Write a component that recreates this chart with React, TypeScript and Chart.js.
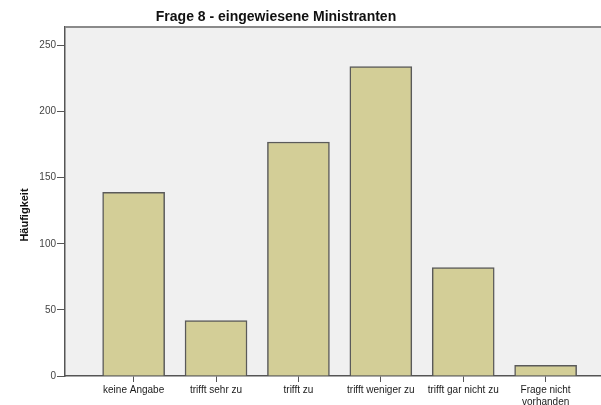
import React, { useEffect, useRef } from "react";
import { Chart, registerables } from "chart.js";

Chart.register(...registerables);

const categories: string[][] = [
  ["keine Angabe"],
  ["trifft sehr zu"],
  ["trifft zu"],
  ["trifft weniger zu"],
  ["trifft gar nicht zu"],
  ["Frage nicht", "vorhanden"],
];
const counts = [139, 42, 177, 234, 82, 8];
const yTicks = [0, 50, 100, 150, 200, 250];
const chartTitle = "Frage 8 - eingewiesene Ministranten";
const yAxisTitle = "Häufigkeit";

const FONT = '"Liberation Sans", Arial, sans-serif';

export default function App() {
  const ref = useRef<HTMLCanvasElement | null>(null);

  useEffect(() => {
    if (!ref.current) return;
    const framePlugin = {
      id: "frame",
      beforeDraw(chart: any) {
        const { ctx, chartArea } = chart;
        ctx.save();
        ctx.fillStyle = "#F0F0F0";
        ctx.fillRect(chartArea.left, chartArea.top, chartArea.right - chartArea.left, chartArea.bottom - chartArea.top);
        ctx.restore();
      },
      afterDraw(chart: any) {
        const { ctx, chartArea } = chart;
        ctx.save();
        ctx.strokeStyle = "#8A8A8A";
        ctx.lineWidth = 2;
        ctx.beginPath();
        ctx.moveTo(chartArea.left, chartArea.top);
        ctx.lineTo(chartArea.right, chartArea.top);
        ctx.stroke();
        ctx.fillStyle = "#111";
        ctx.font = `bold 14px ${FONT}`;
        ctx.textAlign = "center";
        ctx.textBaseline = "alphabetic";
        ctx.fillText(chartTitle, 276, 21);
        ctx.translate(25, 215);
        ctx.rotate(-Math.PI / 2);
        ctx.font = `bold 11px ${FONT}`;
        ctx.textBaseline = "middle";
        ctx.fillText(yAxisTitle, 0, 0);
        ctx.restore();
      },
    };

    const chart = new Chart(ref.current, {
      type: "bar",
      data: {
        datasets: [
          {
            data: counts.map((v, i) => ({ x: i, y: v })),
            backgroundColor: "#D3CE97",
            borderColor: "#5A5A5A",
            borderWidth: 1.5,
            barThickness: 62,
          },
        ],
      },
      options: {
        animation: false,
        responsive: false,
        devicePixelRatio: 1,
        layout: { padding: { top: 27, left: 0, right: 0, bottom: 0 } },
        plugins: { legend: { display: false }, tooltip: { enabled: false }, title: { display: false } },
        scales: {
          x: {
            type: "linear",
            offset: false,
            min: -0.833,
            max: 5.672,
            afterBuildTicks: (s: any) => {
              s.ticks = categories.map((_, i) => ({ value: i }));
            },
            afterFit: (s: any) => {
              s.height = 29;
            },
            ticks: {
              autoSkip: false,
              maxRotation: 0,
              padding: 2,
              color: "#1A1A1A",
              font: { family: FONT, size: 10 },
              callback: (v: any) => categories[v] ?? "",
            },
            grid: { offset: false, drawOnChartArea: false, tickLength: 6, tickColor: "#555", tickWidth: 1 },
            border: { color: "#555", width: 1.5 },
          },
          y: {
            min: 0,
            max: 264,
            afterBuildTicks: (s: any) => {
              s.ticks = yTicks.map((v) => ({ value: v }));
            },
            afterFit: (s: any) => {
              s.width = 65;
            },
            ticks: {
              padding: 1,
              color: "#444",
              font: { family: FONT, size: 10 },
            },
            grid: { drawOnChartArea: false, tickLength: 8, tickColor: "#555", tickWidth: 1 },
            border: { color: "#555", width: 1.5 },
          },
        },
      },
      plugins: [framePlugin],
    });
    return () => chart.destroy();
  }, []);

  return (
    <div style={{ position: "absolute", left: 0, top: 0, width: 601, height: 405, background: "#fff" }}>
      <canvas ref={ref} width={601} height={405} style={{ width: 601, height: 405 }} />
    </div>
  );
}
